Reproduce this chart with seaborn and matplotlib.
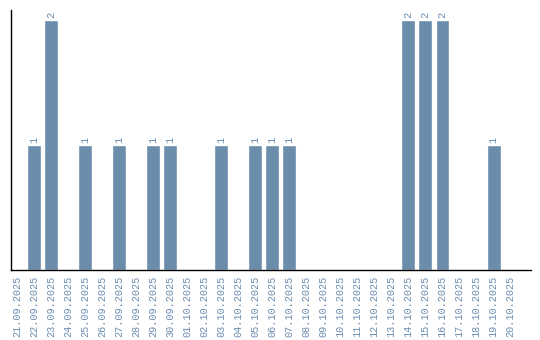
import matplotlib
matplotlib.use("Agg")
import matplotlib.pyplot as plt
import seaborn as sns
import pandas as pd

dates = ["21.09.2025", "22.09.2025", "23.09.2025", "24.09.2025", "25.09.2025",
         "26.09.2025", "27.09.2025", "28.09.2025", "29.09.2025", "30.09.2025",
         "01.10.2025", "02.10.2025", "03.10.2025", "04.10.2025", "05.10.2025",
         "06.10.2025", "07.10.2025", "08.10.2025", "09.10.2025", "10.10.2025",
         "11.10.2025", "12.10.2025", "13.10.2025", "14.10.2025", "15.10.2025",
         "16.10.2025", "17.10.2025", "18.10.2025", "19.10.2025", "20.10.2025"]
counts = [0, 1, 2, 0, 1, 0, 1, 0, 1, 1,
          0, 0, 1, 0, 1, 1, 1, 0, 0, 0,
          0, 0, 0, 2, 2, 2, 0, 0, 1, 0]

df = pd.DataFrame({"date": dates, "count": counts})

sns.set_style("white")
bar_color = "#6b8cab"
text_color = "#6a8caf"
mono = ["Liberation Mono", "DejaVu Sans Mono"]

fig = plt.figure(figsize=(5.4, 3.4), dpi=100)
ax = fig.add_axes([11 / 540, 70 / 340, 520 / 540, 260 / 340])
sns.barplot(data=df, x="date", y="count", color=bar_color, width=0.82,
            saturation=1, ax=ax)

for i, v in enumerate(counts):
    if v > 0:
        ax.text(i, v + 0.02, str(v), rotation=90, ha="center", va="bottom",
                fontsize=7.5, color=text_color, family=mono)

ax.set_xlim(-0.35, 30.2)
ax.set_ylim(0, 2.08)
ax.set_xlabel("")
ax.set_ylabel("")
ax.set_yticks([])
ax.set_xticks(range(len(dates)))
ax.set_xticklabels(dates, rotation=90, fontsize=7.3, color=text_color, family=mono)
ax.tick_params(axis="x", length=0, pad=4)
for s in ["top", "right"]:
    ax.spines[s].set_visible(False)
for s in ["left", "bottom"]:
    ax.spines[s].set_color("black")
    ax.spines[s].set_linewidth(1)

fig.savefig("out.png", dpi=100)
